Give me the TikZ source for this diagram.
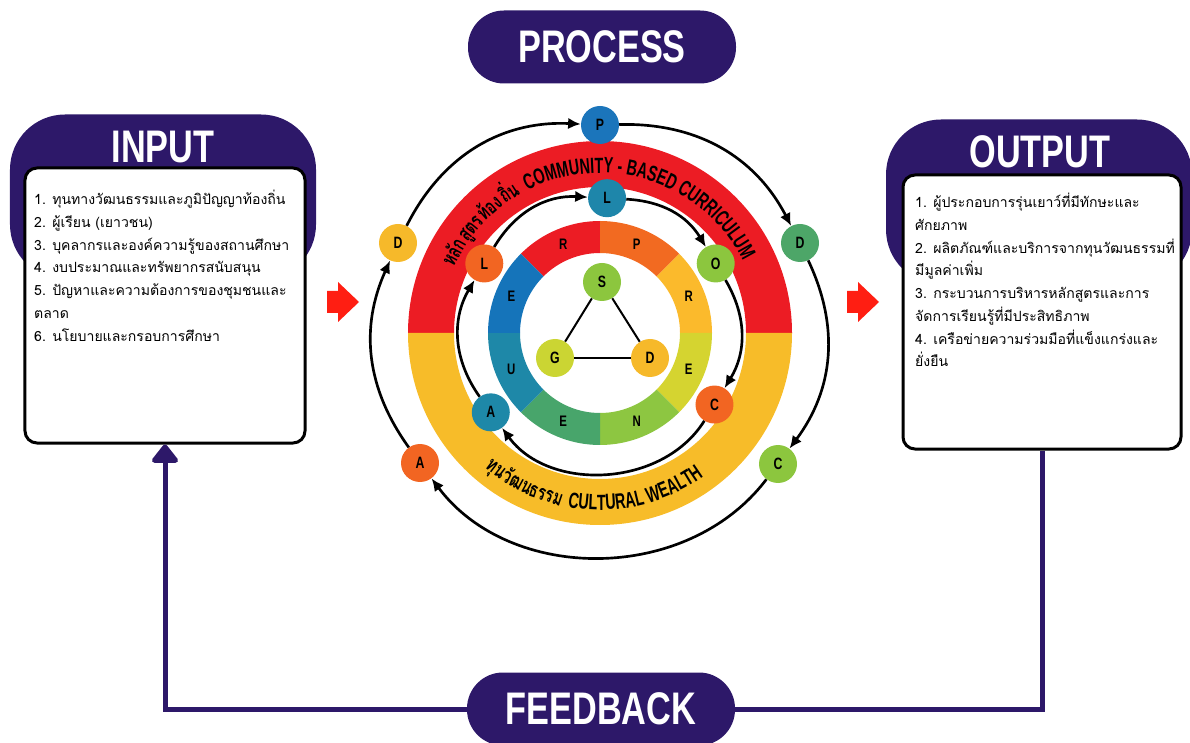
\documentclass[tikz,border=0pt]{standalone}
\usepackage{fontspec}
\setmainfont{Liberation Sans}
\newfontfamily\thaifont[Script=Thai]{Loma}
\newfontfamily\thaibandfont[Script=Thai,FakeStretch=0.7]{Loma}
\newfontfamily\headfont[FakeStretch=0.75]{Liberation Sans}
\newfontfamily\bandfont[FakeStretch=0.65]{Liberation Sans}
\usetikzlibrary{positioning, calc, arrows.meta, decorations.text}
\definecolor{ipopurple}{HTML}{2D1869}
\definecolor{arrowred}{HTML}{FF1E12}
\definecolor{bandred}{HTML}{EC1C24}
\definecolor{bandyellow}{HTML}{F7BC29}
\definecolor{wred}{HTML}{EC1C24}
\definecolor{worange}{HTML}{F26A21}
\definecolor{wamber}{HTML}{FBBA2C}
\definecolor{wlime}{HTML}{D5D430}
\definecolor{wgreen}{HTML}{8DC641}
\definecolor{wteal}{HTML}{48A56B}
\definecolor{wcyan}{HTML}{1E88A8}
\definecolor{wblue}{HTML}{1574BA}
\definecolor{dotblue}{HTML}{1B75BB}
\definecolor{dotgreen}{HTML}{4DA668}
\definecolor{dotlime}{HTML}{8CC63E}
\definecolor{dotorange}{HTML}{F26522}
\definecolor{dotamber}{HTML}{F6B92A}
\definecolor{dotteal}{HTML}{1E86AA}
\definecolor{dotyellow}{HTML}{CBD533}

\begin{document}
\begin{tikzpicture}[x=0.3mm, y=0.3mm,
    pill/.style={rectangle, rounded corners=10.8mm, fill=ipopurple, minimum width=80.4mm, minimum height=21.9mm, inner sep=0, text=white, font=\headfont\bfseries\fontsize{39}{39}\selectfont},
    head/.style={rectangle, rounded corners=16.5mm, fill=ipopurple, minimum width=91.8mm, minimum height=49.5mm},
    titletxt/.style={text=white, inner sep=0, font=\headfont\bfseries\fontsize{39}{39}\selectfont},
    card/.style={rectangle, rounded corners=3.6mm, draw=black, line width=0.9mm, fill=white, minimum width=84mm, minimum height=82.5mm},
    listtxt/.style={align=left, anchor=north west, inner sep=0, font=\thaifont\fontsize{12}{19.4}\selectfont},
    dot/.style={circle, minimum size=11.4mm, inner sep=0, font=\headfont\bfseries\fontsize{14}{14}\selectfont},
    wheeltxt/.style={inner sep=0, font=\headfont\bfseries\fontsize{13}{13}\selectfont},
    thaiband/.style={inner sep=0, anchor=base, font=\thaibandfont\bfseries\fontsize{18}{18}\selectfont},
    cyc/.style={line width=0.8mm, -{Latex[length=3.8mm,width=3.4mm]}},
    fb/.style={draw=ipopurple, line width=1.5mm}]
\useasboundingbox (0,0) rectangle (1190,742);

\node[head] (inhead) at (163,545) {};
\node[head] (outhead) at (1039,540) {};
\node[titletxt] (intitle) at (163,595) {INPUT};
\node[titletxt] (outtitle) at (1040,590) {OUTPUT};
\node[card] (inbox) at (165,436.5) {};
\node[card, minimum width=83.4mm, minimum height=82.2mm] (outbox) at (1042,430) {};

\node[listtxt] (inlist) at (34,552) {1. ทุนทางวัฒนธรรมและภูมิปัญญาท้องถิ่น\\
2. ผู้เรียน (เยาวชน)\\
3. บุคลากรและองค์ความรู้ของสถานศึกษา\\
4. งบประมาณและทรัพยากรสนับสนุน\\
5. ปัญหาและความต้องการของชุมชนและ\\
ตลาด\\
6. นโยบายและกรอบการศึกษา};
\node[listtxt] (outlist) at (915,549) {1. ผู้ประกอบการรุ่นเยาว์ที่มีทักษะและ\\
ศักยภาพ\\
2. ผลิตภัณฑ์และบริการจากทุนวัฒนธรรมที่\\
มีมูลค่าเพิ่ม\\
3. กระบวนการบริหารหลักสูตรและการ\\
จัดการเรียนรู้ที่มีประสิทธิภาพ\\
4. เครือข่ายความร่วมมือที่แข็งแกร่งและ\\
ยั่งยืน};

\node[pill] (process) at (602,695) {PROCESS};
\node[pill] (feedback) at (601,33) {FEEDBACK};

% red block arrows
\foreach \x in {327,847} {
  \fill[arrowred] (\x,429) -- (\x+11,429) -- (\x+11,420) -- (\x+32,440) -- (\x+11,460) -- (\x+11,451) -- (\x,451) -- cycle;
}

% bands
\coordinate (O) at (600,409);
\fill[bandred] ($(O)+(0:192)$) arc[start angle=0, end angle=180, radius=192] -- ($(O)+(180:146)$) arc[start angle=180, end angle=0, radius=146] -- cycle;
\fill[bandyellow] ($(O)+(180:192)$) arc[start angle=180, end angle=360, radius=192] -- ($(O)+(0:146)$) arc[start angle=360, end angle=180, radius=146] -- cycle;

% wheel
\foreach \a/\col/\txt [count=\i] in {90/wred/R, 45/worange/P, 0/wamber/R, -45/wlime/E, -90/wgreen/N, -135/wteal/E, 180/wcyan/U, 135/wblue/E} {
  \fill[\col] ($(O)+(\a:112)$) arc[start angle=\a, end angle=\a+45, radius=112] -- ($(O)+(\a+45:80)$) arc[start angle=\a+45, end angle=\a, radius=80] -- cycle;
  \node[wheeltxt] (w\i) at ($(O)+(\a+22.5:96)$) {\txt};
}

% band texts
\node[thaiband, rotate=61] (t1) at ($(O)+(151:160)$) {หลัก};
\node[thaiband, rotate=51] (t2) at ($(O)+(141:160)$) {สูตร};
\node[thaiband, rotate=41.5] (t3) at ($(O)+(131.5:160)$) {ท้อง};
\node[thaiband, rotate=33] (t4) at ($(O)+(123:160)$) {ถิ่น};
\path[decorate, decoration={text along path, text={|\bandfont\bfseries\fontsize{18.8}{18.8}\selectfont|COMMUNITY - BASED CURRICULUM}}]
  ($(O)+(117:160)$) arc[start angle=117, end angle=18, radius=160];
\node[thaiband, rotate=-37.5] (b1) at ($(O)+(232.5:177)$) {ทุน};
\node[thaiband, rotate=-29] (b2) at ($(O)+(241:177)$) {วัฒน};
\node[thaiband, rotate=-18.5] (b3) at ($(O)+(251.5:177)$) {ธรรม};
\path[decorate, decoration={text along path, text={|\bandfont\bfseries\fontsize{18.8}{18.8}\selectfont|CULTURAL WEALTH}}]
  ($(O)+(259.5:177)$) arc[start angle=259.5, end angle=320, radius=177];

% center triangle
\node[dot, fill=dotlime] (s) at (602,460) {S};
\node[dot, fill=dotyellow] (g) at (555,384) {G};
\node[dot, fill=dotamber] (d) at (650,384) {D};
\draw[line width=0.6mm] (s) -- (g);
\draw[line width=0.6mm] (g) -- (d);
\draw[line width=0.6mm] (d) -- (s);

% inner cycle
\node[dot, fill=dotteal] (l1) at ($(O)+(87:135)$) {L};
\node[dot, fill=dotlime] (o1) at ($(O)+(31:135)$) {O};
\node[dot, fill=dotorange] (c1) at ($(O)+(-32:135)$) {C};
\node[dot, fill=wcyan] (a1) at ($(O)+(216:135)$) {A};
\node[dot, fill=dotorange] (l2) at ($(O)+(149:135)$) {L};
\draw[cyc] (a1) to[bend left=33] (l2);
\draw[cyc] (l2) to[bend left=31] (l1);
\draw[cyc] (l1) to[bend left=28] (o1);
\draw[cyc] (o1) to[bend left=31] (c1);
\draw[cyc] (c1) to[bend left=56] (a1);

% outer cycle
\node[dot, fill=dotblue] (p) at (600,617) {P};
\node[dot, fill=dotgreen] (d2) at (800,499) {D};
\node[dot, fill=dotlime] (c2) at (778,278) {C};
\node[dot, fill=dotorange] (a2) at (420,279) {A};
\node[dot, fill=dotamber] (d1) at (398,499) {D};
\draw[cyc] (a2) to[bend left=30] (d1);
\draw[cyc] (d1) to[bend left=33] (p);
\draw[cyc] (p) to[bend left=32] (d2);
\draw[cyc] (d2) to[bend left=31] (c2);
\draw[cyc] (c2) to[bend left=53] (a2);

% feedback loop
\draw[fb] (outbox.south) |- (feedback.east);
\draw[fb, -{Triangle[width=9mm,length=6mm,round]}] (feedback.west) -| (inbox.south);
\end{tikzpicture}
\end{document}
